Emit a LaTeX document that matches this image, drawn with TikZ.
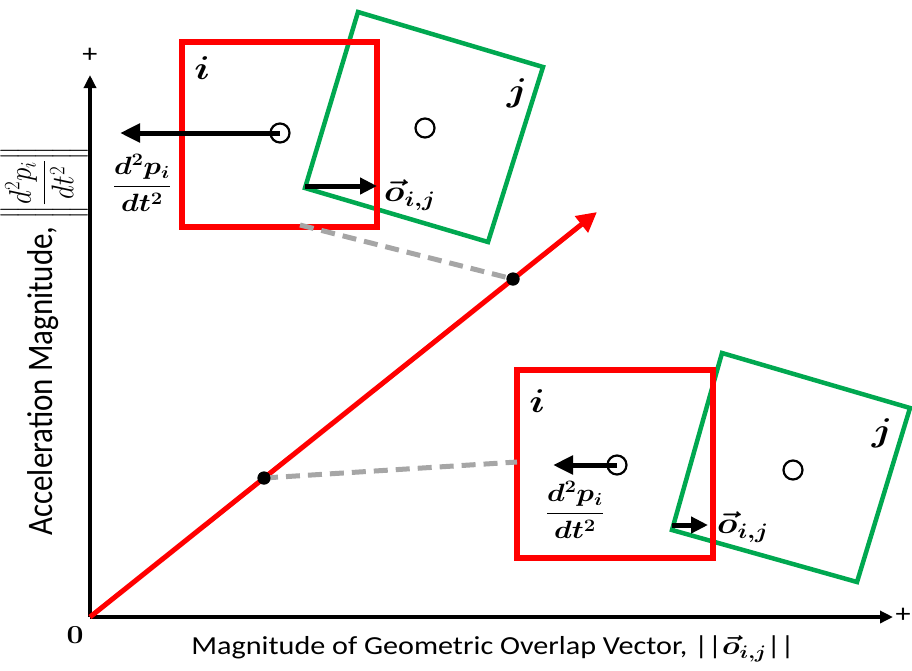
\RequirePackage{fix-cm}
\documentclass[tikz,border=0pt]{standalone}
\usepackage[no-math]{fontspec}
\usepackage{amsmath,bm,graphicx}
\newfontfamily\lab{Carlito}
\usetikzlibrary{arrows.meta}
\definecolor{rd}{RGB}{255,0,0}
\definecolor{gn}{RGB}{0,168,80}
\definecolor{gr}{RGB}{166,166,166}
\newcommand{\hs}[1]{\scalebox{1.16}[1]{#1}}
\begin{document}
\begin{tikzpicture}[x=1pt,y=-1pt,
  redbox/.style={draw=rd,line width=6pt},
  greenbox/.style={draw=gn,line width=4.5pt,line join=miter},
  axis/.style={line width=3.3pt,-{Triangle[length=13pt,width=12pt]}},
  force/.style={line width=5pt,-{Triangle[length=20pt,width=18pt]}},
  overlap/.style={line width=5pt,-{Triangle[length=17pt,width=16pt]}},
  centre/.style={circle,draw,line width=2.2pt,minimum size=19pt,inner sep=0pt},
  dot/.style={circle,fill=black,minimum size=13pt,inner sep=0pt},
  guide/.style={draw=gr,line width=5pt,dash pattern=on 14pt off 8pt},
  letter/.style={inner sep=0pt,font=\fontsize{33}{36}\selectfont},
  mathlab/.style={inner sep=0pt,font=\fontsize{25}{28}\selectfont},
  veclab/.style={inner sep=0pt,font=\fontsize{30}{33}\selectfont},
  plus/.style={inner sep=0pt,font=\lab\fontsize{26}{28}\selectfont},
  axlab/.style={inner sep=0pt},
  redline/.style={draw=rd,line width=5pt,-{Triangle[length=20pt,width=20pt]}}
]
\useasboundingbox (0,0) rectangle (912,670);

% axes
\coordinate (O) at (90,617);
\coordinate (Ytip) at (90,75);
\coordinate (Xtip) at (893,617);
\draw[axis] (O) -- (Ytip);
\draw[axis] (O) -- (Xtip);
\node[plus] (yplus) at (90,55) {\hs{+}};
\node[plus] (xplus) at (903,615) {\hs{+}};
\node[inner sep=0pt,font=\fontsize{26}{28}\selectfont\bfseries] (zero) at (75,635) {\hs{0}};

% red diagonal
\coordinate (Rtip) at (597,212);
\draw[redline] (O) -- (Rtip);

% dots
\node[dot] (d1) at (264,478) {};
\node[dot] (d2) at (513,279) {};

% top configuration
\draw[greenbox] (358,12) -- (543,67) -- (488,242) -- (305,188) -- cycle;
\draw[redbox] (182,42) rectangle (377,227);
\node[centre] (ci1) at (280,133) {};
\node[centre] (cj1) at (425,128) {};
\coordinate (f1) at (120,133);
\draw[force] (ci1.center) -- (f1);
\coordinate (o1s) at (305,186);
\coordinate (o1e) at (377,186);
\draw[overlap] (o1s) -- (o1e);
\node[letter] (li1) at (202,68) {\hs{\boldmath$i$}};
\node[letter] (lj1) at (517,93) {\hs{\boldmath$j$}};
\node[mathlab] (acc1) at (142,183) {\hs{\boldmath$\dfrac{d^2p_i}{dt^2}$}};
\node[veclab] (ov1) at (410,195) {\hs{\boldmath$\vec{o}_{i,j}$}};
\coordinate (g1) at (300,225);
\draw[guide] (g1) -- (d2.center);
\node[dot] at (d2) {};

% bottom configuration
\draw[greenbox] (722,353) -- (910,408) -- (857,582) -- (672,530) -- cycle;
\draw[redbox] (517,370) rectangle (713,558);
\node[centre] (ci2) at (617,465) {};
\node[centre] (cj2) at (793,470) {};
\coordinate (f2) at (553,465);
\draw[force] (ci2.center) -- (f2);
\coordinate (o2s) at (672,525);
\coordinate (o2e) at (708,525);
\draw[overlap] (o2s) -- (o2e);
\node[letter] (li2) at (537,401) {\hs{\boldmath$i$}};
\node[letter] (lj2) at (882,433) {\hs{\boldmath$j$}};
\node[mathlab] (acc2) at (575,510) {\hs{\boldmath$\dfrac{d^2p_i}{dt^2}$}};
\node[veclab] (ov2) at (743,527) {\hs{\boldmath$\vec{o}_{i,j}$}};
\coordinate (g2) at (517,462);
\draw[guide] (d1.center) -- (g2);
\node[dot] at (d1) {};

% axis labels
\node[axlab,font=\fontsize{26}{30}\selectfont] (xlab) at (493,649)
  {\hs{\lab Magnitude of Geometric Overlap Vector, ||{\boldmath$\vec{o}_{i,j}$}||}};
\node[axlab,rotate=90,anchor=base,font=\fontsize{31}{34}\selectfont] (ylab) at (52,341)
  {\scalebox{1}[1.16]{\lab Acceleration Magnitude, {\fontsize{27}{30}\selectfont$\left\|\dfrac{d^2p_i}{dt^2}\right\|$}}};
\end{tikzpicture}
\end{document}
